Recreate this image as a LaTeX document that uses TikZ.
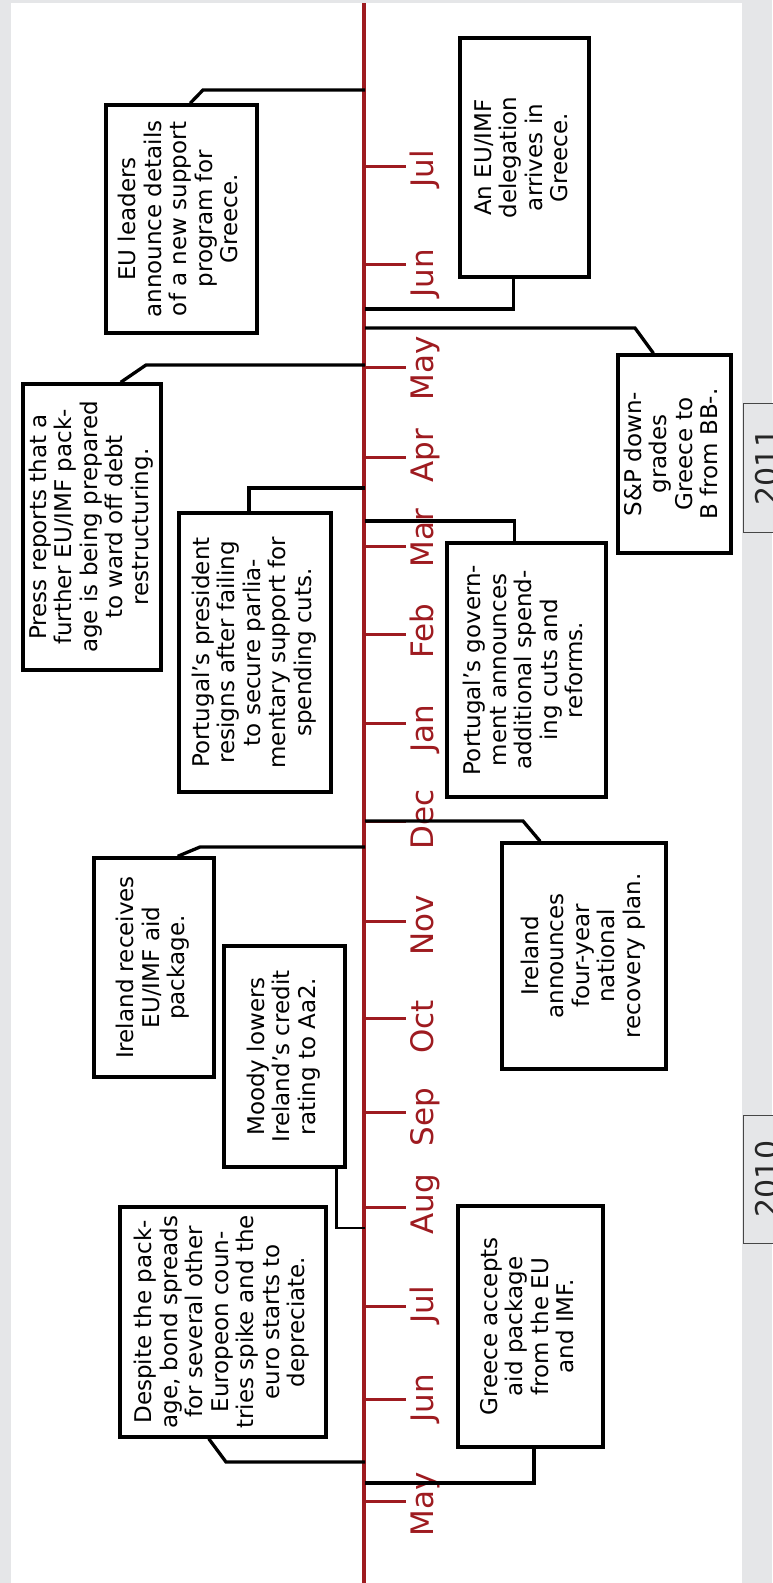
\documentclass[tikz,border=0pt]{standalone}
\usepackage{fontspec}
\setmainfont{DejaVu Sans}
\usetikzlibrary{calc}
\definecolor{axisred}{RGB}{158,27,32}
\definecolor{bggray}{RGB}{229,230,232}
\definecolor{yearedge}{RGB}{70,70,70}
\newcommand{\evtext}[1]{\rotatebox{90}{\fontsize{23}{25.5}\selectfont\begin{tabular}{@{}c@{}}#1\end{tabular}}}
\begin{document}
\begin{tikzpicture}[x=1pt,y=-1pt,
  evbox/.style={draw=black,line width=3.4pt,fill=white,inner sep=0pt,rectangle},
  conn/.style={draw=black,line width=3.3pt},
  tickln/.style={draw=axisred,line width=3pt},
  axisln/.style={draw=axisred,line width=3.6pt},
  month/.style={text=axisred,font=\fontsize{31}{31}\selectfont,rotate=90,anchor=base,inner sep=0pt},
  yearbox/.style={draw=yearedge,line width=1.2pt,fill=bggray,inner sep=0pt,anchor=north west},
  yeartext/.style={font=\fontsize{30}{30}\selectfont,rotate=90,anchor=base,inner sep=0pt,text=black!85}]
\useasboundingbox (0,0) rectangle (772,1583);
\fill[bggray] (0,0) rectangle (772,1583);
\fill[white] (11,3) rectangle (742,1583);

% year boxes
\node[yearbox,minimum width=60,minimum height=129] (y2011) at (743,403) {};
\node[yeartext] (t2011) at (777,467) {2011};
\node[yearbox,minimum width=60,minimum height=128] (y2010) at (743,1115) {};
\node[yeartext] (t2010) at (777,1179) {2010};

% axis
\coordinate (axtop) at (364,3);
\coordinate (axbot) at (364,1583);
\draw[axisln] (axtop) -- (axbot);

% ticks
\foreach \ty in {166,264,367,457,546,634,723,821,921,1018,1112,1207,1306,1399,1501}{
  \draw[tickln] (364,\ty) -- (406,\ty);
}

% month labels
\node[month] (m1) at (433,169) {Jul};
\node[month] (m2) at (433,273) {Jun};
\node[month] (m3) at (433,368) {May};
\node[month] (m4) at (433,456) {Apr};
\node[month] (m5) at (433,538) {Mar};
\node[month] (m6) at (433,631) {Feb};
\node[month] (m7) at (433,729) {Jan};
\node[month] (m8) at (433,819) {Dec};
\node[month] (m9) at (433,925) {Nov};
\node[month] (m10) at (433,1027) {Oct};
\node[month] (m11) at (433,1117) {Sep};
\node[month] (m12) at (433,1204) {Aug};
\node[month] (m13) at (433,1305) {Jul};
\node[month] (m14) at (433,1398) {Jun};
\node[month] (m15) at (433,1504) {May};

% event boxes
\node[evbox,minimum width=151,minimum height=228] (A) at (181.5,219)
  {\evtext{EU leaders\\announce details\\of a new support\\program for\\Greece.}};
\node[evbox,minimum width=129,minimum height=239] (B) at (524.5,157.5)
  {\evtext{An EU/IMF\\delegation\\arrives in\\Greece.}};
\node[evbox,minimum width=113,minimum height=198] (C) at (674.5,454)
  {\evtext{S\&P down-\\grades\\Greece to\\B from BB-.}};
\node[evbox,minimum width=138,minimum height=286] (D) at (92,527)
  {\evtext{Press reports that a\\further EU/IMF pack-\\age is being prepared\\to ward off debt\\restructuring.}};
\node[evbox,minimum width=152,minimum height=279] (E) at (255,652.5)
  {\evtext{Portugal’s president\\resigns after failing\\to secure parlia-\\mentary support for\\spending cuts.}};
\node[evbox,minimum width=159,minimum height=254] (F) at (526.5,670)
  {\evtext{Portugal’s govern-\\ment announces\\additional spend-\\ing cuts and\\reforms.}};
\node[evbox,minimum width=164,minimum height=226] (G) at (584,956)
  {\evtext{Ireland\\announces\\four-year\\national\\recovery plan.}};
\node[evbox,minimum width=120,minimum height=219] (H) at (154,967.5)
  {\evtext{Ireland receives\\EU/IMF aid\\package.}};
\node[evbox,minimum width=121,minimum height=221] (I) at (284.5,1056.5)
  {\evtext{Moody lowers\\Ireland’s credit\\rating to Aa2.}};
\node[evbox,minimum width=206,minimum height=230] (J) at (223,1322)
  {\evtext{Despite the pack-\\age, bond spreads\\for several other\\Europeon coun-\\tries spike and the\\euro starts to\\depreciate.}};
\node[evbox,minimum width=145,minimum height=241] (K) at (530.5,1326.5)
  {\evtext{Greece accepts\\aid package\\from the EU\\and IMF.}};

% axis attachment points
\coordinate (pA) at (365,90);
\coordinate (pB) at (365,309);
\coordinate (pC) at (365,328);
\coordinate (pD) at (365,365);
\coordinate (pE) at (365,488);
\coordinate (pF) at (365,521);
\coordinate (pG) at (365,821);
\coordinate (pH) at (365,847);
\coordinate (pI) at (365,1228);
\coordinate (pJ) at (365,1462);
\coordinate (pK) at (365,1483);

% connectors
\draw[conn] (pA) -- (203,90) -- ($(A.north west)!0.556!(A.north east)$);
\draw[conn] ($(B.south west)!0.419!(B.south east)$) |- (pB);
\draw[conn] (pC) -- (635,328) -- ($(C.north west)!0.319!(C.north east)$);
\draw[conn] (pD) -- (146,365) -- ($(D.north west)!0.703!(D.north east)$);
\draw[conn] (pE) -| ($(E.north west)!0.461!(E.north east)$);
\draw[conn] (pF) -| ($(F.north west)!0.428!(F.north east)$);
\draw[conn] (pG) -- (523,821) -- ($(G.north west)!0.238!(G.north east)$);
\draw[conn] (pH) -- (200,847) -- ($(H.north west)!0.692!(H.north east)$);
\draw[conn,line width=2.6pt] ($(I.south west)!0.917!(I.south east)$) |- (pI);
\draw[conn] ($(J.south west)!0.432!(J.south east)$) -- (226,1462) -- (pJ);
\draw[conn] ($(K.south west)!0.524!(K.south east)$) |- (pK);
\end{tikzpicture}
\end{document}
